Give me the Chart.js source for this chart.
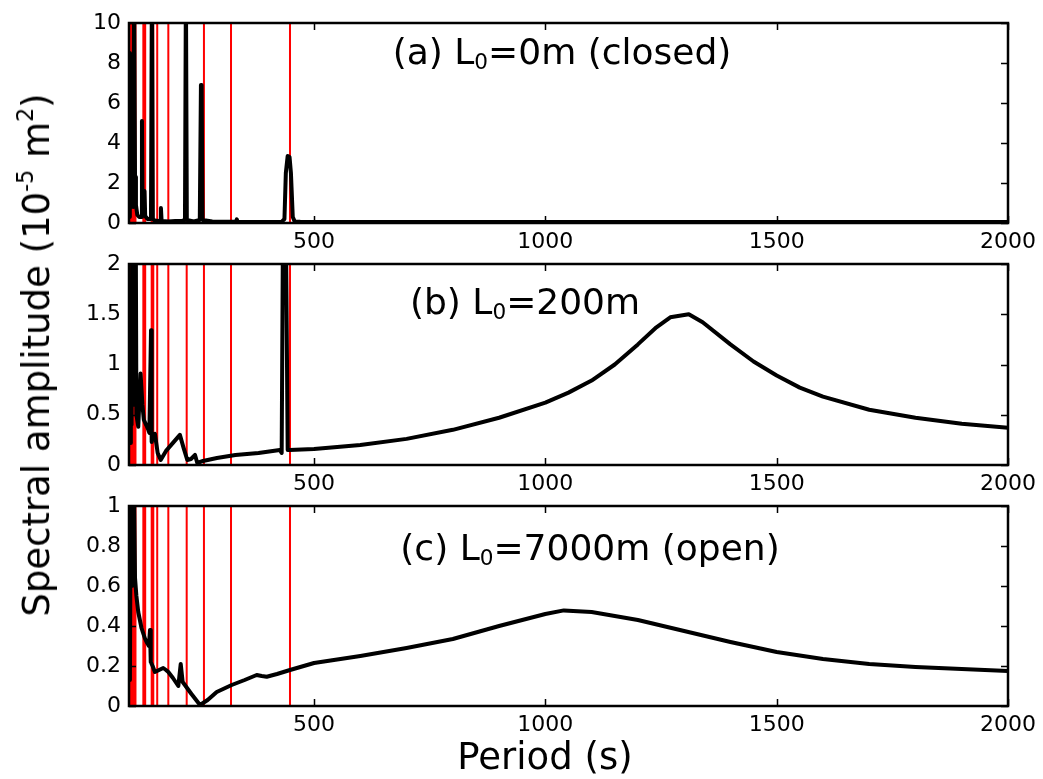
<!DOCTYPE html>
<html>
<head>
<meta charset="utf-8">
<script src="https://cdn.jsdelivr.net/npm/chart.js@4.4.1/dist/chart.umd.min.js"></script>
<style>
  body { margin: 0; background: #fff; }
  #wrap { position: relative; width: 1043px; height: 779px; overflow: hidden; font-family: "DejaVu Sans", sans-serif; }
  canvas { position: absolute; left: 0; }
  .txt { position: absolute; white-space: nowrap; color: #000; font-size: 36px; line-height: 40px; transform: translateX(-50%); }
  .txt sub { font-size: 0.6em; vertical-align: -0.25em; line-height: 0; }
  .txt sup { font-size: 0.6em; vertical-align: 0.7em; line-height: 0; }
  #ylab { left: 37px; top: 355px; transform: translate(-50%, -50%) rotate(-90deg); font-size: 37px; }
  #xlab { left: 545px; top: 737px; font-size: 37px; }
</style>
</head>
<body>
<div id="wrap">
  <canvas id="cA" width="1043" height="263"></canvas>
  <canvas id="cB" width="1043" height="264"></canvas>
  <canvas id="cC" width="1043" height="263"></canvas>
  <div class="txt" style="left:562px; top:32px;">(a) L<sub>0</sub>=0m (closed)</div>
  <div class="txt" style="left:525px; top:282px;">(b) L<sub>0</sub>=200m</div>
  <div class="txt" style="left:590px; top:528px;">(c) L<sub>0</sub>=7000m (open)</div>
  <div class="txt" id="ylab">Spectral amplitude (10<sup>-5</sup> m<sup>2</sup>)</div>
  <div class="txt" id="xlab">Period (s)</div>
</div>
<script>
// x ticks shared by all three panels
const xTicks = [500, 1000, 1500, 2000];

// red vertical lines (resonant periods, s)
const redPeriods = [101.5, 104, 106.5, 109, 111.5, 114, 131, 135, 149, 152.5, 161, 185, 224.7, 262, 320.5, 448];

// (a) closed
const periodA = [100, 101.8, 103, 105, 107, 109, 111, 113, 115, 118,
  122, 126.5, 128, 129.5, 132, 133.5, 135, 140, 147.5, 149.5,
  151.5, 156, 165, 167.5, 169, 170.5, 185, 200, 215, 221,
  223, 225, 240, 253, 255.5, 257, 259, 280, 320, 331,
  333, 335, 380, 430, 436, 439, 443, 447, 450, 454,
  458, 470, 600, 1000, 1500, 2000];
const ampA = [0.3, 8.5, 8.2, 1.2, 1.8, 0.8, 12, 2.3, 0.9, 0.4,
  0.3, 0.3, 5.1, 0.5, 0.4, 1.6, 0.35, 0.2, 0.2, 12,
  0.2, 0.12, 0.1, 0.12, 0.75, 0.1, 0.08, 0.1, 0.1, 0.15,
  12, 0.15, 0.08, 0.15, 6.9, 6.9, 0.15, 0.08, 0.06, 0.06,
  0.18, 0.05, 0.05, 0.06, 0.2, 2.5, 3.35, 3.3, 2.5, 0.3,
  0.08, 0.06, 0.05, 0.05, 0.05, 0.05];

// (b) L0 = 200 m
const periodB = [100, 101, 102.5, 104, 105.5, 107, 109, 111, 113, 114.5,
  116, 120, 125, 129, 132, 137, 141.7, 144, 147.6, 149,
  152, 156, 162, 168.5, 180, 195, 210, 218, 226, 234,
  242.7, 247.6, 260, 290, 330, 380, 426, 430, 433, 439,
  443, 447, 500, 600, 700, 800, 900, 1000, 1050, 1100,
  1150, 1200, 1240, 1270, 1310, 1340, 1400, 1450, 1500, 1550,
  1600, 1700, 1800, 1900, 2000];
const ampB = [0.5, 0.25, 0.22, 1.2, 0.4, 2.5, 1.14, 0.6, 1.52, 2.5,
  0.5, 0.38, 0.91, 0.6, 0.45, 0.4, 0.35, 0.32, 1.34, 0.23,
  0.3, 0.31, 0.12, 0.05, 0.14, 0.22, 0.30, 0.17, 0.05, 0.06,
  0.1, 0.02, 0.04, 0.07, 0.1, 0.12, 0.15, 0.12, 2.5, 2.5,
  0.15, 0.15, 0.16, 0.2, 0.26, 0.35, 0.47, 0.62, 0.72, 0.84,
  1.0, 1.2, 1.37, 1.47, 1.5, 1.42, 1.2, 1.03, 0.89, 0.77,
  0.68, 0.55, 0.47, 0.41, 0.37];

// (c) open
const periodC = [100, 102, 104, 106, 108, 110, 113, 116, 120, 127,
  134, 138, 143, 145.4, 147, 151, 156, 165, 174, 180,
  185, 195, 206.6, 211.8, 216, 235, 253.5, 270, 289.6, 322,
  350, 376, 387, 397.7, 420, 448, 500, 600, 700, 800,
  900, 1000, 1040, 1100, 1200, 1300, 1400, 1500, 1600, 1700,
  1800, 1900, 2000];
const ampC = [0.13, 0.14, 1.3, 0.6, 1.3, 1.3, 0.64, 0.55, 0.47, 0.39,
  0.34, 0.32, 0.3, 0.38, 0.22, 0.2, 0.17, 0.18, 0.19, 0.18,
  0.17, 0.14, 0.10, 0.21, 0.12, 0.06, 0.005, 0.03, 0.07, 0.105,
  0.13, 0.155, 0.15, 0.146, 0.16, 0.18, 0.215, 0.25, 0.29, 0.335,
  0.4, 0.46, 0.478, 0.47, 0.43, 0.375, 0.32, 0.27, 0.235, 0.21,
  0.195, 0.185, 0.175];

const yMaxA = 10, yStepA = 2;
const yMaxB = 2, yStepB = 0.5;
const yMaxC = 1, yStepC = 0.2;

// frame + inward ticks on all four sides, like the matplotlib original
const framePlugin = {
  id: 'frame',
  afterDraw(chart) {
    const { ctx, chartArea: a, scales } = chart;
    ctx.save();
    ctx.strokeStyle = '#000';
    ctx.lineWidth = 1.5;
    ctx.beginPath();
    scales.x.ticks.forEach(t => {
      const px = Math.round(scales.x.getPixelForValue(t.value)) + 0.5;
      ctx.moveTo(px, a.bottom); ctx.lineTo(px, a.bottom - 7);
      ctx.moveTo(px, a.top); ctx.lineTo(px, a.top + 7);
    });
    scales.y.ticks.forEach(t => {
      const py = Math.round(scales.y.getPixelForValue(t.value)) + 0.5;
      ctx.moveTo(a.left, py); ctx.lineTo(a.left + 7, py);
      ctx.moveTo(a.right, py); ctx.lineTo(a.right - 7, py);
    });
    ctx.stroke();
    ctx.lineWidth = 2.5;
    ctx.strokeRect(a.left, a.top, a.width, a.height);
    ctx.restore();
  }
};

function makePanel(id, top, periods, amps, yMax, yStep) {
  const canvas = document.getElementById(id);
  canvas.style.top = top + 'px';
  const redData = [];
  redPeriods.forEach(p => {
    redData.push({ x: p, y: 0 }, { x: p, y: yMax }, { x: p, y: null });
  });
  return new Chart(canvas, {
    type: 'line',
    data: {
      datasets: [
        {
          data: periods.map((p, i) => ({ x: p, y: amps[i] })),
          borderColor: '#000',
          borderWidth: 4,
          borderJoinStyle: 'round',
          pointRadius: 0,
          tension: 0,
          order: 1
        },
        {
          data: redData,
          borderColor: '#ff0000',
          borderWidth: 2,
          pointRadius: 0,
          spanGaps: false,
          order: 2
        }
      ]
    },
    options: {
      responsive: false,
      animation: false,
      devicePixelRatio: 1,
      layout: { padding: { top: 23, right: 35, left: 0, bottom: 0 } },
      plugins: { legend: { display: false }, tooltip: { enabled: false } },
      scales: {
        x: {
          type: 'linear',
          min: 100,
          max: 2000,
          afterBuildTicks: s => { s.ticks = xTicks.map(v => ({ value: v })); },
          afterFit: s => { s.height = 40; },
          grid: { display: false, drawTicks: false },
          border: { display: false },
          ticks: {
            color: '#000',
            font: { family: 'DejaVu Sans', size: 22 },
            padding: 6,
            maxRotation: 0,
            callback: v => String(v)
          }
        },
        y: {
          min: 0,
          max: yMax,
          afterFit: s => { s.width = 129; },
          grid: { display: false, drawTicks: false },
          border: { display: false },
          ticks: {
            stepSize: yStep,
            color: '#000',
            font: { family: 'DejaVu Sans', size: 22 },
            padding: 8,
            callback: v => String(+v.toFixed(2))
          }
        }
      }
    },
    plugins: [framePlugin]
  });
}

makePanel('cA', 0, periodA, ampA, yMaxA, yStepA);
makePanel('cB', 241, periodB, ampB, yMaxB, yStepB);
makePanel('cC', 483, periodC, ampC, yMaxC, yStepC);
</script>
</body>
</html>
